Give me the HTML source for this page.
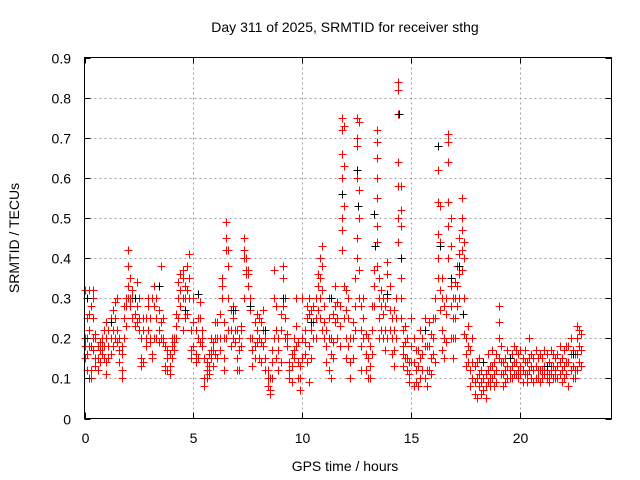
<!DOCTYPE html>
<html><head><meta charset="utf-8"><style>
body{margin:0;background:#fff;}
svg{display:block;font-family:"Liberation Sans",sans-serif;}
</style></head><body>
<svg id="chart" width="640" height="480" viewBox="0 0 640 480" xmlns="http://www.w3.org/2000/svg">
<rect width="640" height="480" fill="#fff"/>
<text x="345" y="32" font-size="14" text-anchor="middle" fill="#000">Day 311 of 2025, SRMTID for receiver sthg</text>
<g id="grid"></g>
<g id="marks"></g>
<rect x="84.5" y="57.5" width="527" height="361" fill="none" stroke="#000" stroke-width="1"/>
<g id="ticks"></g>
<text x="345" y="471" font-size="14" text-anchor="middle">GPS time / hours</text>
<text transform="translate(19,238) rotate(-90)" font-size="14" text-anchor="middle">SRMTID / TECUs</text>
</svg>
<script>
const xTicks=[0,5,10,15,20];
const yTicks=[0,0.1,0.2,0.3,0.4,0.5,0.6,0.7,0.8,0.9];
const yTickLabels=["0","0.1","0.2","0.3","0.4","0.5","0.6","0.7","0.8","0.9"];
const hours=[0.0,0.1,0.2,0.3,0.4,0.5,0.6,0.7,0.8,0.9,1.0,1.1,1.2,1.3,1.4,1.5,1.6,1.7,1.8,1.9,2.0,2.1,2.2,2.3,2.4,2.5,2.6,2.7,2.8,2.9,3.0,3.1,3.2,3.3,3.4,3.5,3.6,3.7,3.8,3.9,4.0,4.1,4.2,4.3,4.4,4.5,4.6,4.7,4.8,4.9,5.0,5.1,5.2,5.3,5.4,5.5,5.6,5.7,5.8,5.9,6.0,6.1,6.2,6.3,6.4,6.5,6.6,6.7,6.8,6.9,7.0,7.1,7.2,7.3,7.4,7.5,7.6,7.7,7.8,7.9,8.0,8.1,8.2,8.3,8.4,8.5,8.6,8.7,8.8,8.9,9.0,9.1,9.2,9.3,9.4,9.5,9.6,9.7,9.8,9.9,10.0,10.1,10.2,10.3,10.4,10.5,10.6,10.7,10.8,10.9,11.0,11.1,11.2,11.3,11.4,11.5,11.6,11.7,11.8,11.9,12.0,12.1,12.2,12.3,12.4,12.5,12.6,12.7,12.8,12.9,13.0,13.1,13.2,13.3,13.4,13.5,13.6,13.7,13.8,13.9,14.0,14.1,14.2,14.3,14.4,14.5,14.6,14.7,14.8,14.9,15.0,15.1,15.2,15.3,15.4,15.5,15.6,15.7,15.8,15.9,16.0,16.1,16.2,16.3,16.4,16.5,16.6,16.7,16.8,16.9,17.0,17.1,17.2,17.3,17.4,17.5,17.6,17.7,17.8,17.9,18.0,18.1,18.2,18.3,18.4,18.5,18.6,18.7,18.8,18.9,19.0,19.1,19.2,19.3,19.4,19.5,19.6,19.7,19.8,19.9,20.0,20.1,20.2,20.3,20.4,20.5,20.6,20.7,20.8,20.9,21.0,21.1,21.2,21.3,21.4,21.5,21.6,21.7,21.8,21.9,22.0,22.1,22.2,22.3,22.4,22.5,22.6,22.7,22.8];
const srmtid=[[.15,.18,.2,.32],[.3,.25,.12,.16,.2],[.32,.26,.22,.1,.18],[.28,.18,.12,.1],[.32,.3,.25,.2,.17],[.21,.2,.15,.13],[.18,.15,.12],[.19,.17,.14],[.18,.16,.2],[.15,.18,.22],
[.24,.2,.14,.11],[.18,.15,.22],[.2,.16,.25],[.22,.18,.27],[.29,.25,.2],[.3,.22,.19],[.2,.17,.14],[.16,.12,.1,.18],[.25,.2,.28],[.28,.23,.3],
[.42,.38,.33,.3],[.35,.3,.28],[.32,.3,.25],[.3,.26,.23],[.28,.24,.34],[.25,.3,.22],[.2,.13,.15],[.14,.22,.25],[.25,.2,.18],[.28,.22,.3],
[.25,.2,.19],[.16,.15,.3],[.2,.33,.28],[.3,.25,.2],[.27,.19,.22],[.38,.24,.2],[.19,.2,.25],[.13,.12,.18],[.15,.12,.17],[.16,.13,.11],
[.18,.15,.2],[.19,.17,.2],[.2,.23,.26],[.34,.3,.25],[.36,.32,.28],[.37,.35,.3,.22],[.33,.3,.25],[.38,.32,.26],[.41,.35,.3],[.22,.17,.15],
[.24,.18,.3],[.22,.16,.14],[.25,.2,.15],[.29,.25,.19],[.2,.18,.22],[.15,.1,.08],[.12,.1,.14],[.13,.16,.11],[.15,.2,.17],[.17,.19,.13],
[.24,.2,.16],[.2,.15,.24],[.26,.2,.17],[.3,.33,.35],[.24,.2,.15,.12],[.49,.45,.42,.2],[.42,.38,.3,.22],[.22,.18,.27],[.25,.2,.28],[.27,.22,.19],
[.22,.15,.12],[.2,.17,.12],[.23,.18,.22],[.45,.42,.4,.3],[.4,.37,.36],[.37,.36,.33],[.3,.27,.2],[.2,.17,.13],[.18,.15,.24],[.22,.26,.19],
[.25,.2,.15],[.24,.19,.14],[.27,.22,.18],[.2,.15,.12],[.12,.08,.1],[.07,.06,.1],[.1,.14,.17],[.37,.3,.2],[.28,.22,.15],[.2,.17,.12],
[.26,.22,.14],[.38,.35,.28],[.25,.2,.3],[.21,.18,.2],[.12,.1,.14],[.09,.13,.16],[.2,.17,.15],[.23,.18,.3],[.14,.1,.19],[.13,.1,.07],
[.2,.15,.3],[.19,.16,.22],[.28,.25,.14],[.3,.26,.18,.09],[.27,.22,.15],[.28,.24,.2],[.25,.3,.2],[.36,.33,.27],[.4,.35,.3,.25],[.43,.38,.32,.22],
[.28,.24,.2],[.22,.18,.14],[.3,.25,.2,.12],[.2,.16,.1],[.26,.19,.15],[.33,.28,.24],[.29,.25,.2],[.28,.23,.18],[.75,.72,.66,.6,.56,.5,.47,.42],[.73,.63,.53,.33,.25],
[.32,.27,.2,.15],[.3,.25,.18],[.2,.14,.1],[.24,.2,.15],[.35,.28,.22],[.75,.7,.68,.6,.45,.4],[.74,.57,.5,.37,.3],[.28,.22,.18,.12],[.3,.25,.2],[.21,.16,.12],
[.2,.15,.1],[.18,.13,.1],[.28,.22,.16],[.37,.33,.28],[.72,.69,.65,.6,.55,.48,.44,.38],[.35,.3,.25,.2],[.32,.28,.22],[.3,.26,.2],[.28,.22,.17],[.39,.36,.3,.2],
[.33,.27,.22],[.25,.2,.16],[.27,.22,.17,.13],[.3,.25,.2],[.84,.82,.76,.64,.58,.5,.44],[.58,.52,.48,.4,.35,.3,.25],[.22,.18,.16,.13],[.23,.19,.15],[.2,.15,.12],[.14,.11,.09],
[.25,.18,.14],[.2,.14,.08],[.17,.12,.09],[.17,.13,.08],[.22,.15,.1],[.2,.16,.12],[.25,.18,.1],[.18,.12,.08],[.24,.18,.12],[.21,.15,.11],
[.25,.2,.16],[.3,.25,.14],[.68,.62,.54,.46,.4,.35],[.53,.44,.32,.27],[.35,.3,.22,.17],[.28,.2,.15],[.3,.26,.19],[.71,.69,.64,.54,.48,.4],[.5,.43,.33,.28,.2],[.3,.25,.2,.15],
[.34,.3,.25,.2],[.38,.33,.28],[.45,.41,.36,.3],[.55,.5,.47,.42,.37],[.44,.4,.3,.21],[.2,.16,.13],[.23,.18,.14],[.17,.12,.08],[.2,.14,.1],[.13,.09,.06],
[.14,.1,.05],[.15,.11,.08],[.12,.09,.06],[.14,.1,.07],[.11,.08,.05],[.16,.12,.09],[.13,.1,.08],[.17,.13,.1],[.14,.11,.08],[.16,.12,.09],
[.28,.24,.2,.15],[.18,.14,.11],[.14,.11,.08],[.15,.12,.09],[.17,.13,.1],[.15,.12,.1],[.16,.13,.1],[.18,.14,.11],[.17,.14,.11],[.16,.12,.1],
[.17,.13,.11],[.15,.12,.09],[.17,.14,.11],[.14,.11,.09],[.2,.15,.12],[.16,.13,.1],[.15,.12,.09],[.17,.13,.1],[.15,.12,.1],[.16,.12,.09],
[.15,.12,.1],[.17,.13,.11],[.16,.12,.1],[.14,.11,.09],[.17,.13,.11],[.16,.13,.1],[.15,.12,.1],[.16,.13,.1],[.18,.14,.11],[.15,.12,.09],
[.17,.13,.1],[.18,.14,.11],[.18,.14,.08],[.2,.16,.12],[.17,.13,.1],[.16,.12,.1],[.23,.2,.16,.12],[.22,.18,.14],[.21,.17,.13]];
const blackHours=[0.1,1.2,2.3,3.4,4.6,5.2,6.8,7.6,8.3,9.1,10.4,11.3,11.8,12.5,12.55,13.3,13.35,13.9,14.45,14.5,15.6,16.2,16.3,16.8,17.2,17.35,18.3,19.5,21.2,22.4];
const blackValues=[0.3,0.24,0.3,0.33,0.27,0.31,0.27,0.28,0.22,0.3,0.24,0.3,0.56,0.62,0.53,0.51,0.43,0.31,0.76,0.4,0.22,0.68,0.43,0.35,0.38,0.26,0.14,0.15,0.13,0.16];
const xMin=0,xMax=24.18,yMin=0,yMax=0.9;
const L=84.5,R=611.5,T=57.5,B=418.5;
function xs(h){return L+(h-xMin)/(xMax-xMin)*(R-L);}
function ys(v){return B-(v-yMin)/(yMax-yMin)*(B-T);}
const NS="http://www.w3.org/2000/svg";
function mk(tag,attrs,parent){const e=document.createElementNS(NS,tag);for(const k in attrs)e.setAttribute(k,attrs[k]);parent.appendChild(e);return e;}
const grid=document.getElementById('grid'),ticks=document.getElementById('ticks'),marks=document.getElementById('marks');
xTicks.forEach(t=>{const x=Math.round(xs(t))+0.5;
 if(t>0){const g=mk('line',{x1:x,x2:x,y1:T,y2:B,stroke:'#a0a0a0','stroke-dasharray':'2,3'},grid);
 
 }
 const l=mk('line',{x1:x,x2:x,y1:B,y2:B-6,stroke:'#000'},ticks);
 
 
 const tx=mk('text',{x:x,y:443,'font-size':14,'text-anchor':'middle'},ticks);tx.textContent=String(t);
 
 
 const r=mk('line',{x1:x,x2:x,y1:T,y2:T+6,stroke:'#000'},ticks);
 
 });
yTicks.forEach((t,i)=>{const y=Math.round(ys(t))+0.5;
 if(t>0&&t<0.9){const g=mk('line',{x1:L,x2:R,y1:y,y2:y,stroke:'#a0a0a0','stroke-dasharray':'2,3'},grid);
 
 }
 const l=mk('line',{x1:L,x2:L+6,y1:y,y2:y,stroke:'#000'},ticks);
 
 
 const r=mk('line',{x1:R,x2:R-6,y1:y,y2:y,stroke:'#000'},ticks);
 
 
 const tx=mk('text',{x:71,y:y+5,'font-size':14,'text-anchor':'end'},ticks);tx.textContent=yTickLabels[i];
 
 });
function plus(h,v,color){const x=Math.round(xs(h))+0.5,y=Math.round(ys(v))+0.5;
 const p=mk('path',{d:`M${x-4} ${y}H${x+4}M${x} ${y-4}V${y+4}`,stroke:color,'stroke-width':1,fill:'none'},marks);
 return p;}
hours.forEach((h,i)=>{srmtid[i].forEach(v=>{const p=plus(h,v,'#ff0000');
 
 });});
blackHours.forEach((h,i)=>{const p=plus(h,blackValues[i],'#000000');
 
 });
</script>
</body></html>
